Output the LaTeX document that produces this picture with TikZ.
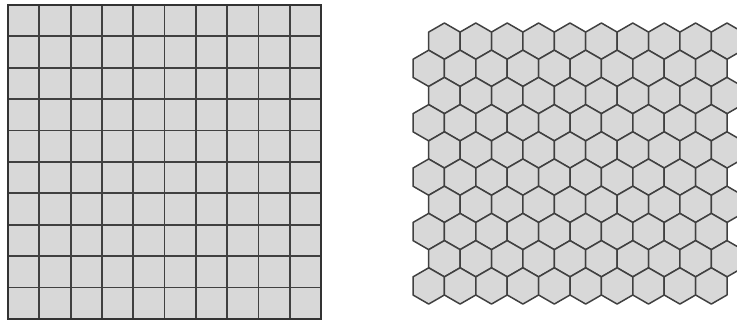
\documentclass[tikz,border=0pt]{standalone}
\definecolor{cellfill}{RGB}{216,216,216}
\definecolor{cellline}{RGB}{64,64,64}
\begin{document}
\begin{tikzpicture}[
        x=1pt, y=-1pt,
        square cell/.style={fill=cellfill},
        grid line/.style={draw=cellline,line width=1.8pt},
        grid frame/.style={draw=cellline!80!black,line width=2.2pt},
        hex cell/.style={fill=cellfill,draw=cellline,line width=1.5pt,line join=round}
    ]
    \clip (0,0) rectangle (737,323);

    \fill[square cell] (8,5) rectangle (321,319);
    \foreach \i in {1,...,9} {
        \draw[grid line] (8+31.3*\i,5) -- (8+31.3*\i,319);
        \draw[grid line] (8,5+31.4*\i) -- (321,5+31.4*\i);
    }
    \draw[grid frame] (8,5) rectangle (321,319);

    \foreach \r in {0,...,9} {
        \pgfmathsetmacro{\hy}{41.13+27.2*\r}
        \pgfmathsetmacro{\hx}{iseven(\r) ? 444.4 : 428.7}
        \foreach \c in {0,...,9} {
            \filldraw[hex cell] (\hx+31.4*\c,\hy) +(90:18.13) -- +(150:18.13) -- +(210:18.13)
                -- +(270:18.13) -- +(330:18.13) -- +(30:18.13) -- cycle;
        }
    }
\end{tikzpicture}
\end{document}
